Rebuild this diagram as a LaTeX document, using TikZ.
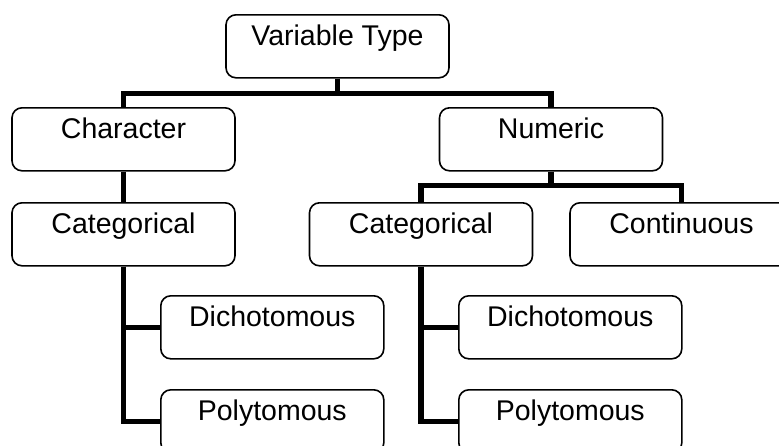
\documentclass[tikz,border=0pt]{standalone}
\usepackage{fontspec}
\setmainfont{Liberation Sans}
\usepackage{tikz}
\usetikzlibrary{positioning}

\tikzset{
	typebox/.style={draw, line width=1.6pt, rounded corners=10pt, inner sep=0pt,
		minimum width=223pt, text height=31pt, text depth=32pt, align=center,
		font=\fontsize{28.5}{33}\selectfont},
	branch/.style={line width=5.5pt}
}

\begin{document}
\begin{tikzpicture}[x=1pt, y=-1pt]
			\useasboundingbox (0,0) rectangle (779,445);
			
			\node[typebox, anchor=north] (vartype) at (337.5,14) {Variable Type};
			\node[typebox, anchor=north] (charac) at (123.5,107) {Character};
			\node[typebox, anchor=north] (numer) at (551,107) {Numeric};
			
			\node[typebox, anchor=north] (catchar) at (123.5,202) {Categorical};
			\node[typebox, anchor=north] (catnum) at (421,202) {Categorical};
			\node[typebox, anchor=north] (contin) at (681.5,202) {Continuous};
			
			\node[typebox, anchor=north west] (dichchar) at (160,295) {Dichotomous};
			\node[typebox, anchor=north west] (polychar) at (160,389) {Polytomous};
			\node[typebox, anchor=north west] (dichnum) at (458,295) {Dichotomous};
			\node[typebox, anchor=north west] (polynum) at (458,389) {Polytomous};
			
			\draw[branch] (vartype.south) -- ++(0,15) -| (charac.north);
			\draw[branch] (vartype.south) -- ++(0,15) -| (numer.north);
			\draw[branch] (charac.south) -- (catchar.north);
			\draw[branch] (numer.south) -- ++(0,14) -| (catnum.north);
			\draw[branch] (numer.south) -- ++(0,14) -| (contin.north);
			
			\draw[branch] (catchar.south) |- (dichchar.west);
			\draw[branch] (catchar.south) |- (polychar.west);
			\draw[branch] (catnum.south) |- (dichnum.west);
			\draw[branch] (catnum.south) |- (polynum.west);
		\end{tikzpicture}
\end{document}
